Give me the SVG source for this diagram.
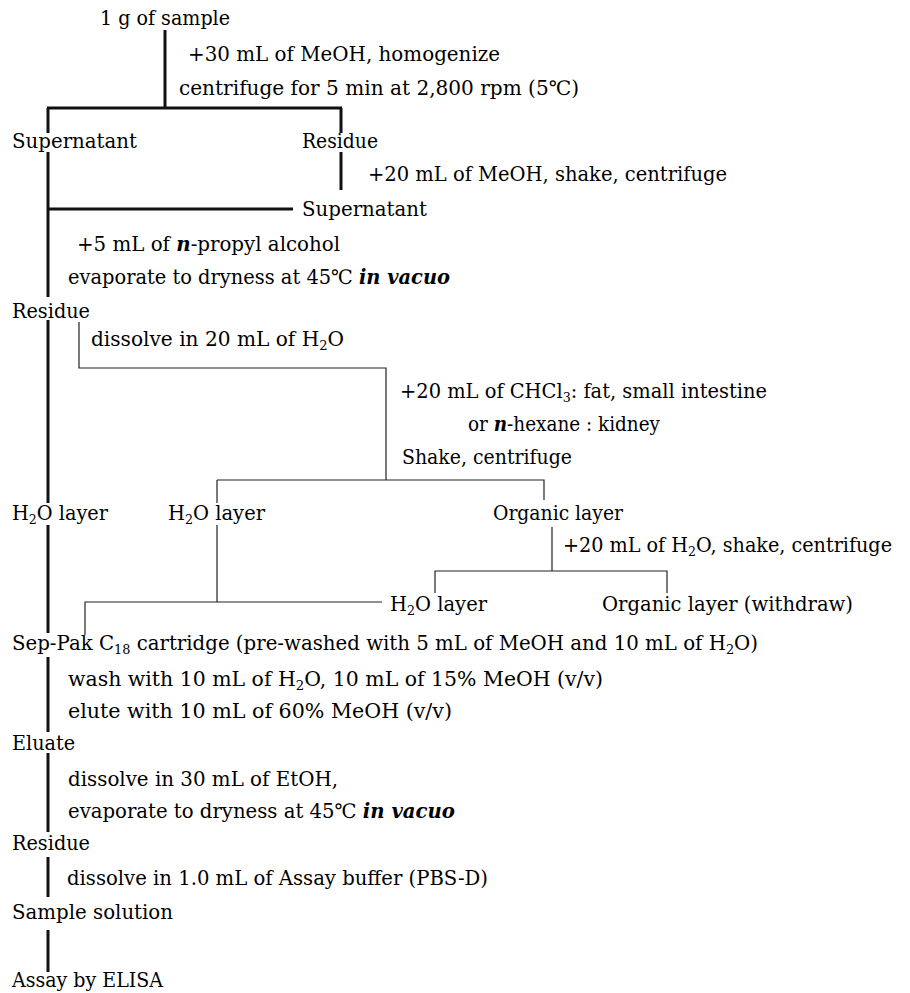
<svg xmlns="http://www.w3.org/2000/svg" width="910" height="993" viewBox="0 0 910 993">
<style>
text{font-family:"DejaVu Serif","Liberation Serif",serif;font-size:20px;fill:#000}
.b{font-weight:bold;font-style:italic}
.s{font-size:13px}
.thick{stroke:#111;stroke-width:3;fill:none}
.thin{stroke:#222;stroke-width:1.2;fill:none}
</style>
<rect width="910" height="993" fill="#fff"/>
<g id="connectors">
<path class="thick" d="M165 30V108M47 108H342M48 108V133M341 108V133M341 152V190M48 152V297M48 209H293M48 320V503M48 525V633M48 657V732M48 753V832M48 857V897M48 930V972"/>
<path class="thin" d="M79 322V368H386V480M217 480H544V500M217 480V503M217 525V602M85 635V602H382M552 527V571M435 593V571H667V593"/>
</g>
<g id="n1"><text x="100" y="25" textLength="130" lengthAdjust="spacingAndGlyphs">1 g of sample</text></g>
<g id="s1"><text x="188" y="61" textLength="312" lengthAdjust="spacingAndGlyphs">+30 mL of MeOH, homogenize</text><text x="179" y="95" textLength="400" lengthAdjust="spacingAndGlyphs">centrifuge for 5 min at 2,800 rpm (5℃)</text></g>
<g id="n2"><text x="12" y="148" textLength="125" lengthAdjust="spacingAndGlyphs">Supernatant</text></g>
<g id="n3"><text x="302" y="148" textLength="76" lengthAdjust="spacingAndGlyphs">Residue</text></g>
<g id="s2"><text x="368" y="181" textLength="359" lengthAdjust="spacingAndGlyphs">+20 mL of MeOH, shake, centrifuge</text></g>
<g id="n4"><text x="302" y="216" textLength="125" lengthAdjust="spacingAndGlyphs">Supernatant</text></g>
<g id="s3"><text x="77" y="251" textLength="263" lengthAdjust="spacingAndGlyphs">+5 mL of <tspan class="b">n</tspan>-propyl alcohol</text><text x="68" y="284" textLength="382" lengthAdjust="spacingAndGlyphs">evaporate to dryness at 45℃ <tspan class="b">in vacuo</tspan></text></g>
<g id="n5"><text x="12" y="318" textLength="78" lengthAdjust="spacingAndGlyphs">Residue</text></g>
<g id="s4"><text x="91" y="346" textLength="253" lengthAdjust="spacingAndGlyphs">dissolve in 20 mL of H<tspan class="s" dy="4">2</tspan><tspan dy="-4">O</tspan></text></g>
<g id="s5"><text x="400" y="398" textLength="367" lengthAdjust="spacingAndGlyphs">+20 mL of CHCl<tspan class="s" dy="4">3</tspan><tspan dy="-4">: fat, small intestine</tspan></text><text x="468" y="431" textLength="192" lengthAdjust="spacingAndGlyphs">or <tspan class="b">n</tspan>-hexane : kidney</text><text x="402" y="464" textLength="170" lengthAdjust="spacingAndGlyphs">Shake, centrifuge</text></g>
<g id="n6"><text x="12" y="520" textLength="96" lengthAdjust="spacingAndGlyphs">H<tspan class="s" dy="4">2</tspan><tspan dy="-4">O layer</tspan></text></g>
<g id="n7"><text x="168" y="520" textLength="97" lengthAdjust="spacingAndGlyphs">H<tspan class="s" dy="4">2</tspan><tspan dy="-4">O layer</tspan></text></g>
<g id="n8"><text x="493" y="520" textLength="130" lengthAdjust="spacingAndGlyphs">Organic layer</text></g>
<g id="s6"><text x="563" y="552" textLength="329" lengthAdjust="spacingAndGlyphs">+20 mL of H<tspan class="s" dy="4">2</tspan><tspan dy="-4">O, shake, centrifuge</tspan></text></g>
<g id="n9"><text x="390" y="611" textLength="97" lengthAdjust="spacingAndGlyphs">H<tspan class="s" dy="4">2</tspan><tspan dy="-4">O layer</tspan></text></g>
<g id="n10"><text x="602" y="611" textLength="251" lengthAdjust="spacingAndGlyphs">Organic layer (withdraw)</text></g>
<g id="n11"><text x="12" y="650" textLength="746" lengthAdjust="spacingAndGlyphs">Sep-Pak C<tspan class="s" dy="4">18</tspan><tspan dy="-4"> cartridge (pre-washed with 5 mL of MeOH and 10 mL of H</tspan><tspan class="s" dy="4">2</tspan><tspan dy="-4">O)</tspan></text></g>
<g id="s7"><text x="68" y="686" textLength="535" lengthAdjust="spacingAndGlyphs">wash with 10 mL of H<tspan class="s" dy="4">2</tspan><tspan dy="-4">O, 10 mL of 15% MeOH (v/v)</tspan></text><text x="68" y="718" textLength="384" lengthAdjust="spacingAndGlyphs">elute with 10 mL of 60% MeOH (v/v)</text></g>
<g id="n12"><text x="12" y="750" textLength="63" lengthAdjust="spacingAndGlyphs">Eluate</text></g>
<g id="s8"><text x="68" y="786" textLength="270" lengthAdjust="spacingAndGlyphs">dissolve in 30 mL of EtOH,</text><text x="68" y="818" textLength="387" lengthAdjust="spacingAndGlyphs">evaporate to dryness at 45℃ <tspan class="b">in vacuo</tspan></text></g>
<g id="n13"><text x="12" y="850" textLength="78" lengthAdjust="spacingAndGlyphs">Residue</text></g>
<g id="s9"><text x="67" y="885" textLength="421" lengthAdjust="spacingAndGlyphs">dissolve in 1.0 mL of Assay buffer (PBS-D)</text></g>
<g id="n14"><text x="12" y="919" textLength="161" lengthAdjust="spacingAndGlyphs">Sample solution</text></g>
<g id="n15"><text x="12" y="987" textLength="151" lengthAdjust="spacingAndGlyphs">Assay by ELISA</text></g>
</svg>
